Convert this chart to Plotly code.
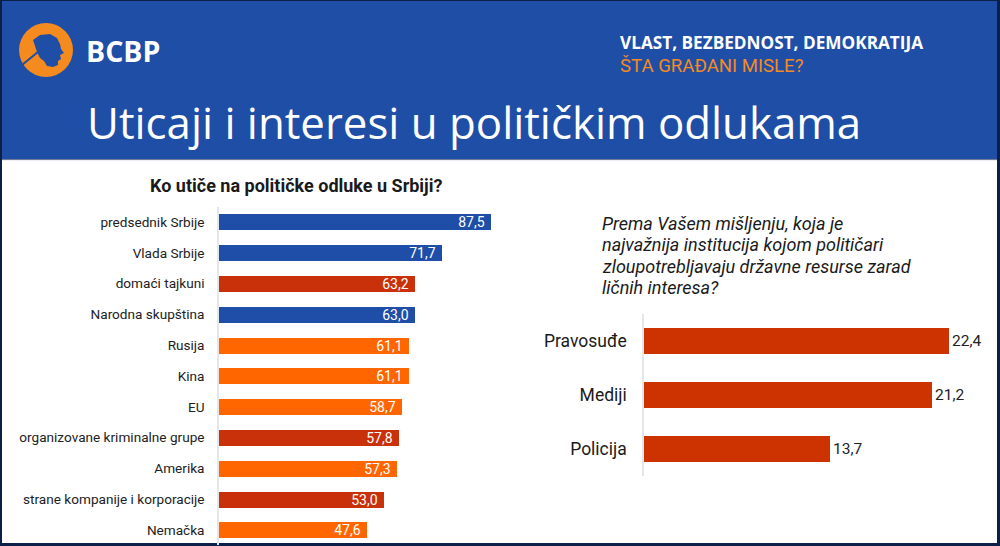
import plotly.graph_objects as go

# ---------------- data ----------------
left_categories = [
    "predsednik Srbije", "Vlada Srbije", "domaći tajkuni", "Narodna skupština",
    "Rusija", "Kina", "EU", "organizovane kriminalne grupe", "Amerika",
    "strane kompanije i korporacije", "Nemačka",
]
left_values = [87.5, 71.7, 63.2, 63.0, 61.1, 61.1, 58.7, 57.8, 57.3, 53.0, 47.6]
left_groups = ["inst", "inst", "interest", "inst", "foreign", "foreign", "foreign",
               "interest", "foreign", "interest", "foreign"]

right_categories = ["Pravosuđe", "Mediji", "Policija"]
right_values = [22.4, 21.2, 13.7]

question_lines = [
    "Prema Vašem mišljenju, koja je",
    "najvažnija institucija kojom političari",
    "zloupotrebljavaju državne resurse zarad",
    "ličnih interesa?",
]

group_colors = {"inst": "#1f4ea8", "interest": "#c8310a", "foreign": "#ff6600"}
left_colors = [group_colors[g] for g in left_groups]

W, H = 1000, 546
NAVY = "#0b1f48"
BLUE = "#1f4ea6"
ORANGE = "#f58a1f"


def px(x):
    return x / W


def py(y):
    return 1 - y / H


fig = go.Figure()

fig.add_trace(go.Bar(
    y=left_categories, x=left_values, orientation="h",
    marker=dict(color=left_colors, line=dict(width=0)),
    width=0.52,
    texttemplate="%{x:.1f}\u00a0", textposition="inside", insidetextanchor="end",
    textfont=dict(family="Roboto", size=14, color="white"),
    constraintext="none",
    xaxis="x", yaxis="y", hoverinfo="skip", showlegend=False,
))

fig.add_trace(go.Bar(
    y=right_categories, x=right_values, orientation="h",
    marker=dict(color="#cc3300", line=dict(width=0)),
    width=0.48,
    texttemplate="%{x:.1f}", textposition="outside",
    textfont=dict(family="Roboto", size=15.5, color="#222222"),
    constraintext="none", cliponaxis=False,
    xaxis="x2", yaxis="y2", hoverinfo="skip", showlegend=False,
))

# ---------------- decorative shapes ----------------
shapes = [
    dict(type="rect", xref="paper", yref="paper", x0=px(2), x1=px(997), y0=py(543), y1=py(160),
         fillcolor="white", line=dict(width=0), layer="below"),
    dict(type="rect", xref="paper", yref="paper", x0=px(2), x1=px(997), y0=py(159), y1=py(1),
         fillcolor=BLUE, line=dict(width=0), layer="below"),
    dict(type="line", xref="paper", yref="paper", x0=px(2), x1=px(997), y0=py(160), y1=py(160),
         line=dict(color="#d8dde8", width=1), layer="below"),
    dict(type="circle", xref="paper", yref="paper", x0=px(19), x1=px(73), y0=py(77), y1=py(23),
         fillcolor=ORANGE, line=dict(width=0), layer="above"),
]

head_pts = [(33, 40), (40, 35), (50, 34), (57, 38), (60, 44), (61, 49), (64, 53), (60, 55),
            (61, 59), (58, 61), (58, 65), (53, 67), (47, 66), (44, 61), (40, 58), (37, 52)]
path = "M " + " L ".join(f"{px(x):.4f},{py(y):.4f}" for x, y in head_pts) + " Z"
shapes.append(dict(type="path", xref="paper", yref="paper", path=path,
                   fillcolor=BLUE, line=dict(width=0), layer="above"))
shapes.append(dict(type="line", xref="paper", yref="paper", x0=px(22), y0=py(65), x1=px(44), y1=py(47),
                   line=dict(color=BLUE, width=2), layer="above"))

# ---------------- text ----------------
annotations = [
    dict(text="<b>BCBP</b>", x=px(84), y=py(51), xanchor="left", yanchor="middle",
         font=dict(family="Open Sans", size=28.5, color="white")),
    dict(text="<b>VLAST, BEZBEDNOST, DEMOKRATIJA</b>", x=px(618), y=py(43), xanchor="left",
         yanchor="middle", font=dict(family="Open Sans", size=17.2, color="white")),
    dict(text="ŠTA GRAĐANI MISLE?", x=px(618), y=py(66), xanchor="left", yanchor="middle",
         font=dict(family="Roboto", size=18.6, color=ORANGE)),
    dict(text="Uticaji i interesi u političkim odlukama", x=px(85), y=py(122), xanchor="left",
         yanchor="middle", font=dict(family="Open Sans", size=43.8, color="white")),
    dict(text="<b>Ko utiče na političke odluke u Srbiji?</b>", x=px(296), y=py(185),
         xanchor="center", yanchor="middle", font=dict(family="Roboto", size=18, color="#1a1a1a")),
]
for i, line in enumerate(question_lines):
    annotations.append(dict(text=f"<i>{line}</i>", x=px(600), y=py(223 + 21.5 * i),
                            xanchor="left", yanchor="middle", align="left",
                            font=dict(family="Roboto", size=18, color="#1a1a1a")))
for a in annotations:
    a.update(xref="paper", yref="paper", showarrow=False)

fig.update_layout(
    width=W, height=H,
    margin=dict(l=0, r=0, t=0, b=0),
    paper_bgcolor=NAVY, plot_bgcolor="rgba(0,0,0,0)",
    separators=", ",
    shapes=shapes, annotations=annotations,
    bargap=0,
    xaxis=dict(domain=[px(219), px(219 + 310.9)], range=[0, 100], visible=False, fixedrange=True),
    yaxis=dict(domain=[py(545.4), py(206.6)], anchor="x", autorange="reversed",
               showline=True, linecolor="#e3e6ea", linewidth=1.5, showgrid=False,
               ticks="", ticklabelstandoff=10,
               tickfont=dict(family="Roboto", size=13.6, color="#222222")),
    xaxis2=dict(domain=[px(644), px(644 + 340)], range=[0, 25], visible=False, fixedrange=True,
                anchor="y2"),
    yaxis2=dict(domain=[py(476), py(314)], anchor="x2", autorange="reversed",
                showline=True, linecolor="#e3e6ea", linewidth=1.5, showgrid=False,
                ticks="", ticklabelstandoff=12,
                tickfont=dict(family="Roboto", size=17.5, color="#1a1a1a")),
)

fig.write_html("out.html")
